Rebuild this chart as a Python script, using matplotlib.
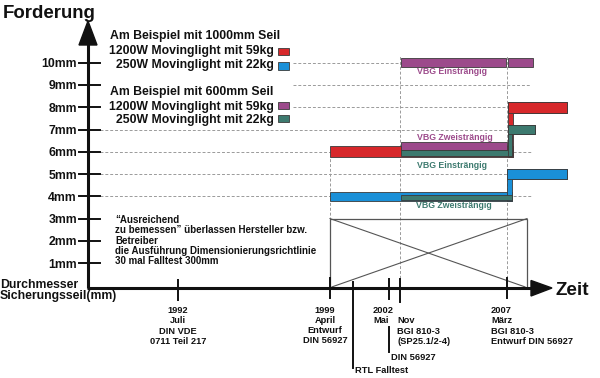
import matplotlib.pyplot as plt
from matplotlib.patches import Rectangle, Polygon

plt.rcParams['font.family'] = ['Liberation Sans', 'DejaVu Sans']
plt.rcParams['font.weight'] = 'bold'

# Durchmesser Sicherungsseil (y-Achse, mm)
mm_ticks = [1, 2, 3, 4, 5, 6, 7, 8, 9, 10]
mm_labels = ['%dmm' % m for m in mm_ticks]
grid_long = [4, 5, 6, 7]
grid_short = [8, 9, 10]

# Zeitachse, schematische Positionen der Ereignisse
t_1992 = 178
t_1999 = 330
t_rtl = 353
t_2002_mai = 389
t_2002_nov = 400
t_2007 = 507
t_vbg = 401
t_box_end = 527

# Treppen: Startpositionen, Ende, Durchmesser je Abschnitt
red_x, red_end, red_mm = [t_1999, 508], 567, [6, 8]            # 1000mm, 1200W
blue_x, blue_end, blue_mm = [t_1999, 507], 567, [4, 5]         # 1000mm, 250W
purple_ein_x, purple_ein_end, purple_ein_mm = [t_vbg, 508], 533, [10, 10]
purple_zwei_x, purple_zwei_end, purple_zwei_mm = [t_vbg], 507, [6]
teal_ein_x, teal_ein_end, teal_ein_mm = [t_vbg, 508], 535, [6, 7]
teal_zwei_x, teal_zwei_end, teal_zwei_mm = [t_vbg], 512, [4]
box_mm = 3

RED, BLUE, PURPLE, TEAL = '#d7282b', '#1a90d8', '#9c4a8b', '#3d7a6f'
EDGE = '#3a3a3a'


def mm(py):
    # pixel row -> mm on the y scale
    return (285.4 - py) / 22.27


fig = plt.figure(figsize=(6, 3.78), dpi=100)
ax = fig.add_axes([0, 0, 1, 1])
ax.set_xlim(0, 600)
ax.set_ylim(mm(378), mm(0))
ax.axis('off')

y_axis = mm(288)
x_axis = 88

# gridlines
for m in grid_long:
    ax.plot([100, 531], [m, m], color='#9a9a9a', lw=0.7, dashes=(3, 2), zorder=1)
for m in grid_short:
    ax.plot([293, 531], [m, m], color='#9a9a9a', lw=0.7, dashes=(3, 2), zorder=1)
ax.plot([t_1999, t_1999], [y_axis, 5.7], color='#9a9a9a', lw=0.7, dashes=(3, 2), zorder=1)
ax.plot([t_2002_nov, t_2002_nov], [y_axis, 10.3], color='#9a9a9a', lw=0.7, dashes=(3, 2), zorder=1)
ax.plot([t_2007, t_2007], [y_axis, 10.3], color='#9a9a9a', lw=0.7, dashes=(3, 2), zorder=1)

# box with cross
ax.add_patch(Rectangle((t_1999, y_axis), t_box_end - t_1999, box_mm - y_axis,
                       fill=False, ec='#555555', lw=0.9, zorder=2))
ax.plot([t_1999, t_box_end - 2], [box_mm, y_axis + 0.05], color='#555555', lw=0.8, zorder=2)
ax.plot([t_box_end, t_1999 + 2], [box_mm, y_axis + 0.05], color='#555555', lw=0.8, zorder=2)


def band(level, kind, half):
    if kind == 'upper':
        return level + 0.08, level + 0.44
    if kind == 'lower':
        return level - 0.17, level + 0.07
    return level - half, level + half


def steps(xs, end, levels, color, kinds, half, conn=5, z=3):
    for i, (x0, lv) in enumerate(zip(xs, levels)):
        lo, hi = band(lv, kinds[i], half)
        if i + 1 < len(xs):
            x1 = xs[i + 1] + conn if levels[i + 1] != lv else xs[i + 1] - 2
        else:
            x1 = end
        ax.add_patch(Rectangle((x0, lo), x1 - x0, hi - lo, fc=color, ec=EDGE, lw=0.6, zorder=z))
    for i in range(1, len(xs)):
        if levels[i] == levels[i - 1]:
            continue
        lo0, hi0 = band(levels[i - 1], kinds[i - 1], half)
        lo1, hi1 = band(levels[i], kinds[i], half)
        ax.add_patch(Rectangle((xs[i], min(lo0, lo1)), conn, max(hi0, hi1) - min(lo0, lo1),
                               fc=color, ec=EDGE, lw=0.6, zorder=z + 0.5))
        # redraw upper segment over the connector
        x1 = end if i + 1 == len(xs) else xs[i + 1]
        ax.add_patch(Rectangle((xs[i], lo1), x1 - xs[i], hi1 - lo1, fc=color, ec=EDGE, lw=0.6, zorder=z + 0.6))


steps(red_x, red_end, red_mm, RED, ['full', 'full'], 0.245, z=3)
steps(blue_x, blue_end, blue_mm, BLUE, ['full', 'full'], 0.21, z=3)
steps(purple_zwei_x, purple_zwei_end, purple_zwei_mm, PURPLE, ['upper'], 0.2, z=4)
steps(teal_ein_x, teal_ein_end, teal_ein_mm, TEAL, ['lower', 'full'], 0.205, conn=4, z=5)
steps(teal_zwei_x, teal_zwei_end, teal_zwei_mm, TEAL, ['lower'], 0.2, z=5)
steps(purple_ein_x, purple_ein_end, purple_ein_mm, PURPLE, ['full', 'full'], 0.205, z=4)

# VBG labels
ax.text(417, mm(73.5), 'VBG Einsträngig', color=PURPLE, fontsize=6.3, zorder=6)
ax.text(417, mm(140.5), 'VBG Zweisträngig', color=PURPLE, fontsize=6.3, zorder=6)
ax.text(417, mm(168), 'VBG Einsträngig', color=TEAL, fontsize=6.3, zorder=6)
ax.text(416, mm(208), 'VBG Zweisträngig', color=TEAL, fontsize=6.3, zorder=6)

# axes with arrows
ax.plot([x_axis, x_axis], [y_axis, mm(42)], color='#111111', lw=2.2, solid_capstyle='butt', zorder=7)
ax.add_patch(Polygon([[x_axis, mm(21)], [x_axis - 9, mm(45)], [x_axis + 9, mm(45)]],
                     closed=True, color='#111111', zorder=7))
ax.plot([x_axis - 1, 533], [y_axis, y_axis], color='#111111', lw=2.2, solid_capstyle='butt', zorder=7)
ax.add_patch(Polygon([[552, y_axis], [531, mm(280.5)], [531, mm(296)]],
                     closed=True, color='#111111', zorder=7))

for m, lab in zip(mm_ticks, mm_labels):
    ax.plot([79, 100], [m, m], color='#111111', lw=1.4, zorder=7)
    ax.text(77, m, lab, ha='right', va='center_baseline', fontsize=8.8, color='#111111')

# x ticks: position, top row, bottom row
x_ticks = [(t_1992, 280, 300), (t_1999, 278, 298), (t_rtl, 282, 368),
           (t_2002_mai, 279, 299), (t_2002_mai, 327, 352), (t_2002_nov, 279, 302),
           (t_2007, 278, 298)]
for xt, top, bot in x_ticks:
    ax.plot([xt, xt], [mm(top), mm(bot)], color='#111111', lw=1.4, zorder=7)

# titles
ax.text(3, mm(18.5), 'Forderung', fontsize=13.4, color='#111111')
ax.text(556, mm(295), 'Zeit', fontsize=13.6, color='#111111')
ax.text(0, mm(288), 'Durchmesser', fontsize=8.8, color='#111111')
ax.text(0, mm(299.5), 'Sicherungsseil(mm)', fontsize=8.8, color='#111111')

# legend
ax.text(110, mm(39), 'Am Beispiel mit 1000mm Seil', fontsize=8.8, color='#111111')
ax.text(274, mm(54.3), '1200W Movinglight mit 59kg', ha='right', fontsize=8.8, color='#111111')
ax.text(274, mm(68), '250W Movinglight mit 22kg', ha='right', fontsize=8.8, color='#111111')
ax.text(110, mm(95.5), 'Am Beispiel mit 600mm Seil', fontsize=8.8, color='#111111')
ax.text(274, mm(110), '1200W Movinglight mit 59kg', ha='right', fontsize=8.8, color='#111111')
ax.text(274, mm(123), '250W Movinglight mit 22kg', ha='right', fontsize=8.8, color='#111111')
for col, top in [(RED, 47.5), (BLUE, 62), (PURPLE, 101.5), (TEAL, 114.8)]:
    ax.add_patch(Rectangle((277.5, mm(top + 7.5)), 11.5, mm(top) - mm(top + 7.5),
                           fc=col, ec=EDGE, lw=0.6, zorder=3))

# note in the box area
note = ['“Ausreichend', 'zu bemessen” überlassen Hersteller bzw.', 'Betreiber',
        'die Ausführung Dimensionierungsrichtlinie', '30 mal Falltest 300mm']
for i, line in enumerate(note):
    ax.text(115, mm(222.7 + 10.4 * i), line, fontsize=7, color='#111111', zorder=8)

# labels under the time axis
def block(x, y0, lines, ha='left', step=10.1):
    for i, line in enumerate(lines):
        ax.text(x, mm(y0 + step * i), line, ha=ha, fontsize=6.7, color='#111111')


block(t_1992, 313.3, ['1992', 'Juli', 'DIN VDE', '0711 Teil 217'], ha='center')
block(325, 313.3, ['1999', 'April', 'Entwurf', 'DIN 56927'], ha='center', step=9.8)
block(373, 313.3, ['2002', 'Mai'])
block(397, 323.4, ['Nov', 'BGI 810-3', '(SP25.1/2-4)'])
block(491, 313.3, ['2007', 'März', 'BGI 810-3', 'Entwurf DIN 56927'])
block(391, 360, ['DIN 56927'])
block(355, 372.7, ['RTL Falltest'])

plt.savefig('out.png', dpi=100)
